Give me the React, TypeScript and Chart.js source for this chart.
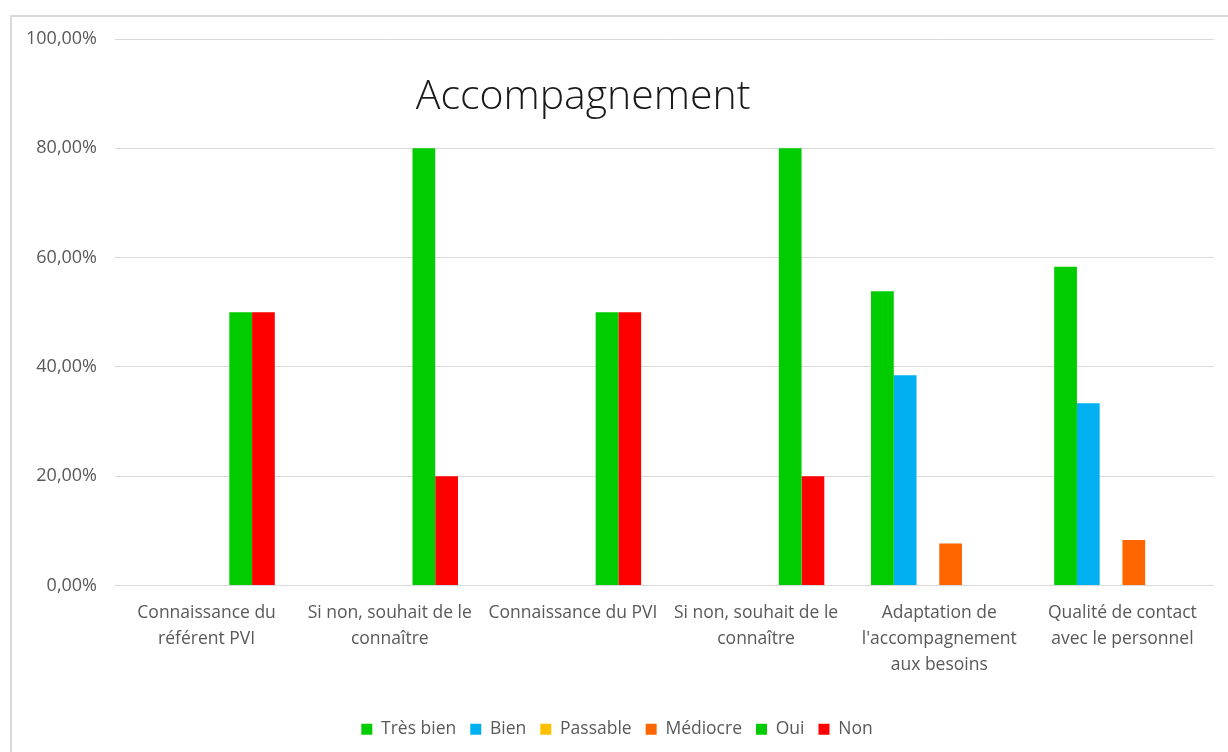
import React, { useEffect, useRef } from "react";
import { Chart, registerables } from "chart.js";

Chart.register(...registerables);

const categories: string[][] = [
  ["Connaissance du", "référent PVI"],
  ["Si non, souhait de le", "connaître"],
  ["Connaissance du PVI"],
  ["Si non, souhait de le", "connaître"],
  ["Adaptation de", "l'accompagnement", "aux besoins"],
  ["Qualité de contact", "avec le personnel"],
];

const seriesNames = ["Très bien", "Bien", "Passable", "Médiocre", "Oui", "Non"];
const seriesColors = ["#00CC00", "#00B0F0", "#FFC000", "#FF6600", "#00CC00", "#FF0000"];

const tresBien = [null, null, null, null, 53.85, 58.33];
const bien = [null, null, null, null, 38.46, 33.33];
const passable = [null, null, null, null, 0, 0];
const mediocre = [null, null, null, null, 7.69, 8.33];
const oui = [50, 80, 50, 80, null, null];
const non = [50, 20, 50, 20, null, null];

const seriesValues = [tresBien, bien, passable, mediocre, oui, non];

const chartTitle = "Accompagnement";
const FONT = "'Open Sans', 'Liberation Sans', sans-serif";

const titlePlugin = {
  id: "overlayTitle",
  afterDraw(chart: any) {
    const { ctx, chartArea } = chart;
    ctx.save();
    ctx.font = `300 41px ${FONT}`;
    ctx.fillStyle = "#1a1a1a";
    ctx.textAlign = "center";
    ctx.textBaseline = "middle";
    ctx.fillText(chartTitle, chartArea.left + chartArea.width * 0.426, chartArea.top + 58);
    ctx.restore();
  },
};

export default function App() {
  const ref = useRef<HTMLCanvasElement | null>(null);

  useEffect(() => {
    if (!ref.current) return;
    const chart = new Chart(ref.current, {
      type: "bar",
      data: {
        labels: categories,
        datasets: seriesNames.map((name, i) => ({
          label: name,
          data: seriesValues[i],
          backgroundColor: seriesColors[i],
          borderWidth: 0,
          barPercentage: 1,
          categoryPercentage: 0.745,
        })),
      },
      plugins: [titlePlugin],
      options: {
        animation: false,
        responsive: false,
        maintainAspectRatio: false,
        layout: { padding: { left: 20, right: 14, top: 39, bottom: 4 } },
        scales: {
          x: {
            grid: { display: false },
            border: { display: false },
            ticks: {
              color: "#595959",
              font: { family: FONT, size: 17.5, lineHeight: 1.5 },
              maxRotation: 0,
              autoSkip: false,
              padding: 6,
            },
            afterFit(scale: any) {
              scale.height = 121;
            },
          },
          y: {
            min: 0,
            max: 100,
            grid: { color: "#D9D9D9", drawTicks: false, lineWidth: 1 },
            border: { display: false },
            ticks: {
              stepSize: 20,
              color: "#595959",
              padding: 18,
              font: { family: FONT, size: 18 },
              callback: (v: any) => Number(v).toFixed(2).replace(".", ",") + "%",
            },
            afterFit(scale: any) {
              scale.width = 95;
            },
          },
        },
        plugins: {
          title: { display: false },
          tooltip: { enabled: false },
          legend: {
            position: "bottom",
            labels: {
              color: "#595959",
              font: { family: FONT, size: 17.5 },
              boxWidth: 11,
              boxHeight: 11,
              padding: 14,
            },
          },
        },
      },
    });
    return () => chart.destroy();
  }, []);

  return (
    <div style={{ position: "fixed", left: 0, top: 0, width: 1228, height: 752, background: "#fff", overflow: "hidden" }}>
      <div
        style={{
          position: "absolute",
          left: 10,
          top: 15,
          width: 1240,
          height: 760,
          border: "2px solid #D9D9D9",
          boxSizing: "border-box",
        }}
      />
      <canvas ref={ref} width={1228} height={752} style={{ position: "absolute", left: 0, top: 0, width: 1228, height: 752 }} />
    </div>
  );
}
